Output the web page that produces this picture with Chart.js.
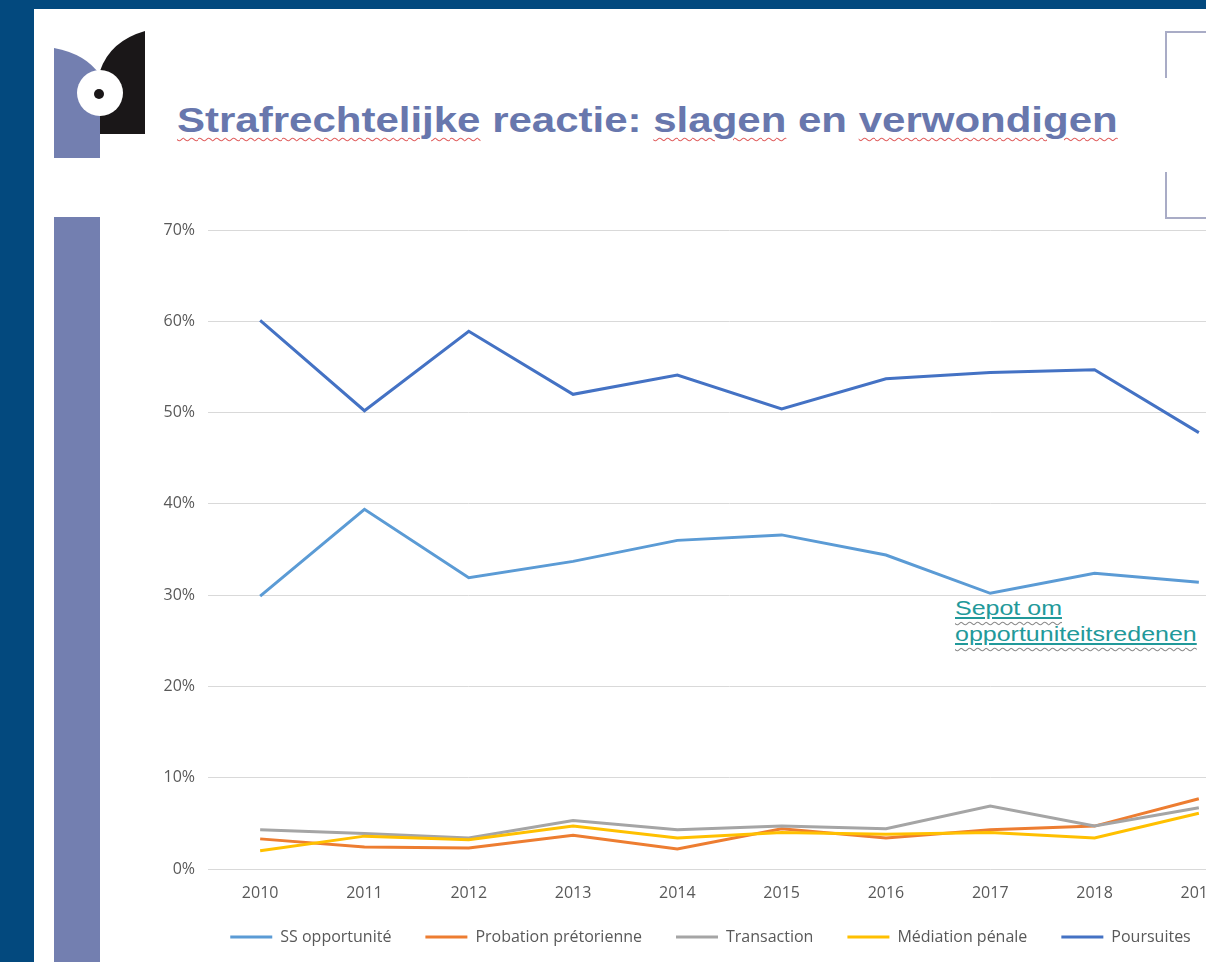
<!DOCTYPE html>
<html>
<head>
<meta charset="utf-8">
<script src="https://cdn.jsdelivr.net/npm/chart.js@4/dist/chart.umd.min.js"></script>
<style>
  html, body { margin: 0; padding: 0; width: 1206px; height: 962px; overflow: hidden; background: #03497e; }
  #slide { position: absolute; left: 34px; top: 9px; width: 1300px; height: 1000px; background: #fff; overflow: hidden; }
  #logo { position: absolute; left: 0; top: 0; }
  #bar { position: absolute; left: 20px; top: 208px; width: 46px; height: 800px; background: #737fb0; }
  #title { position: absolute; left: 143px; top: 91px; font-family: "Liberation Sans", Arial, sans-serif; font-weight: bold; font-size: 35px; color: #6877ad; white-space: nowrap; transform: scaleX(1.2); transform-origin: 0 0; }
  .sp { text-decoration: underline wavy #e06060; text-decoration-thickness: 1px; text-underline-offset: 5px; }
  #note { position: absolute; left: 921px; top: 586px; font-family: "Liberation Sans", Arial, sans-serif; font-size: 21px; line-height: 26px; color: #22999a; white-space: nowrap; transform: scaleX(1.19); transform-origin: 0 0; }
  #note .w { text-decoration: underline wavy #8a8a8a; text-decoration-thickness: 1px; text-underline-offset: 6px; }
  #note .u { text-decoration: underline solid #22999a; text-underline-offset: 2px; }
  canvas { position: absolute; left: 116px; top: 196px; }
</style>
</head>
<body>
<div id="slide">
  <svg id="logo" width="1300" height="230">
    <path d="M20,39 Q52,45 66,66 L66,149 L20,149 Z" fill="#737fb0"/>
    <path d="M111,22 Q76,32 66,62 L66,125 L111,125 Z" fill="#1a1718"/>
    <circle cx="66" cy="84" r="23" fill="#fff"/>
    <circle cx="65" cy="85" r="5" fill="#1a1718"/>
    <path d="M1132,69 L1132,23 L1300,23" fill="none" stroke="#a9acc6" stroke-width="2"/>
    <path d="M1132,163 L1132,209 L1300,209" fill="none" stroke="#a9acc6" stroke-width="2"/>
  </svg>
  <div id="bar"></div>
  <div id="title"><span class="sp">Strafrechtelijke</span> reactie: <span class="sp">slagen</span> en <span class="sp">verwondigen</span></div>
  <div id="note"><span class="w"><span class="u">Sepot om</span></span><br><span class="w"><span class="u">opportuniteitsredenen</span></span></div>
  <canvas id="chart" width="1110" height="750"></canvas>
</div>
<script>
  // Jaren en reeksen (percentages)
  const years = ['2010', '2011', '2012', '2013', '2014', '2015', '2016', '2017', '2018', '2019'];
  const ssOpportunite = [29.9, 39.4, 31.9, 33.7, 36.0, 36.6, 34.4, 30.2, 32.4, 31.4];
  const probation = [3.3, 2.4, 2.3, 3.7, 2.2, 4.4, 3.4, 4.3, 4.7, 7.7];
  const transaction = [4.3, 3.9, 3.4, 5.3, 4.3, 4.7, 4.4, 6.9, 4.7, 6.7];
  const mediation = [2.0, 3.6, 3.2, 4.7, 3.4, 4.0, 3.8, 4.0, 3.4, 6.1];
  const poursuites = [60.1, 50.2, 58.9, 52.0, 54.1, 50.4, 53.7, 54.4, 54.7, 47.8];

  const font = "Open Sans";
  const grey = '#595959';

  function serie(label, data, color, order) {
    return { label, data, borderColor: color, backgroundColor: color, borderWidth: 3,
             pointRadius: 0, tension: 0, fill: false, order };
  }

  // Labels van de assen niet afknippen op de rand van de as
  const noLabelClip = {
    id: 'noLabelClip',
    beforeDraw(chart) {
      Object.values(chart.scales).forEach((s) => { s._computeLabelArea = () => undefined; });
    },
  };

  const ctx = document.getElementById('chart').getContext('2d');
  new Chart(ctx, {
    type: 'line',
    data: {
      labels: years,
      datasets: [
        serie('SS opportunité', ssOpportunite, '#5b9bd5', 5),
        serie('Probation prétorienne', probation, '#ed7d31', 4),
        serie('Transaction', transaction, '#a5a5a5', 3),
        serie('Médiation pénale', mediation, '#ffc000', 2),
        serie('Poursuites', poursuites, '#4472c4', 1),
      ],
    },
    plugins: [noLabelClip],
    options: {
      responsive: false,
      animation: false,
      layout: { padding: { top: 25, right: 9, left: 20, bottom: 0 } },
      plugins: {
        tooltip: { enabled: false },
        legend: {
          position: 'bottom',
          labels: {
            font: { family: font, size: 16 },
            color: grey,
            boxWidth: 42,
            boxHeight: 3,
            padding: 34,
            generateLabels: (chart) => chart.data.datasets.map((ds, i) => ({
              text: ds.label, fillStyle: ds.borderColor, strokeStyle: ds.borderColor,
              lineWidth: 0, datasetIndex: i, fontColor: grey,
            })),
          },
        },
      },
      scales: {
        x: {
          offset: true,
          afterFit: (scale) => { scale.height = 26; },
          grid: { display: false, drawTicks: false },
          border: { display: false },
          ticks: { font: { family: font, size: 16 }, color: grey, padding: 15 },
        },
        y: {
          min: 0,
          max: 70,
          afterFit: (scale) => { scale.width = 38; },
          grid: { color: '#d9d9d9', drawTicks: false },
          border: { display: false },
          ticks: { stepSize: 10, font: { family: font, size: 16 }, color: grey, padding: 13,
                   callback: (v) => v + '%' },
        },
      },
    },
  });
</script>
</body>
</html>
